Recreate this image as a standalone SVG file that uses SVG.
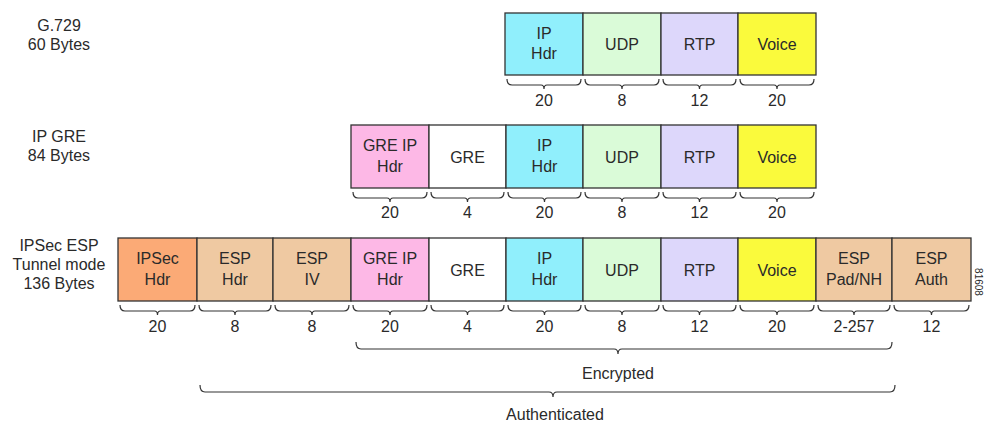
<svg xmlns="http://www.w3.org/2000/svg" width="986" height="423" viewBox="0 0 986 423">
<style>
text{font-family:"Liberation Sans",Arial,sans-serif;font-size:16px;fill:#2a2a2a;text-anchor:middle}
.lbl{font-size:16px}
.num{font-size:16px}
.box{stroke:#333;stroke-width:1.3}
.ip{fill:#90EFFC}
.udp{fill:#DAFBD8}
.rtp{fill:#DDD7FB}
.voice{fill:#FAFA3C}
.greip{fill:#FDB8E6}
.gre{fill:#FFFFFF}
.ipsec{fill:#FBAA76}
.esp{fill:#EFC9A2}
.brace{fill:none;stroke:#333;stroke-width:1.2}
.tag{font-size:10px}
</style>
<rect width="986" height="423" fill="#fff"/>

<g id="label-g729"><text x="59" y="31">G.729</text><text x="59" y="50">60 Bytes</text></g>
<g id="label-ipgre"><text x="59" y="142">IP GRE</text><text x="59" y="161">84 Bytes</text></g>
<g id="label-ipsec"><text x="59" y="251">IPSec ESP</text><text x="59" y="270">Tunnel mode</text><text x="59" y="289">136 Bytes</text></g>

<!-- Row 1 -->
<g id="r1-iphdr"><rect class="box ip" x="505" y="13" width="78" height="62"/><text x="544" y="38.5">IP</text><text x="544" y="59">Hdr</text></g>
<g id="r1-udp"><rect class="box udp" x="583" y="13" width="78" height="62"/><text x="622" y="50">UDP</text></g>
<g id="r1-rtp"><rect class="box rtp" x="661" y="13" width="77" height="62"/><text x="699.5" y="50">RTP</text></g>
<g id="r1-voice"><rect class="box voice" x="738" y="13" width="78" height="62"/><text x="777" y="50">Voice</text></g>

<!-- Row 2 -->
<g id="r2-greiphdr"><rect class="box greip" x="351" y="125" width="78" height="63"/><text x="390" y="151">GRE IP</text><text x="390" y="171.5">Hdr</text></g>
<g id="r2-gre"><rect class="box gre" x="429" y="125" width="77" height="63"/><text x="467.5" y="162.5">GRE</text></g>
<g id="r2-iphdr"><rect class="box ip" x="506" y="125" width="77" height="63"/><text x="544.5" y="151">IP</text><text x="544.5" y="171.5">Hdr</text></g>
<g id="r2-udp"><rect class="box udp" x="583" y="125" width="78" height="63"/><text x="622" y="162.5">UDP</text></g>
<g id="r2-rtp"><rect class="box rtp" x="661" y="125" width="77" height="63"/><text x="699.5" y="162.5">RTP</text></g>
<g id="r2-voice"><rect class="box voice" x="738" y="125" width="78" height="63"/><text x="777" y="162.5">Voice</text></g>

<!-- Row 3 -->
<g id="r3-ipsechdr"><rect class="box ipsec" x="118" y="238" width="79" height="63"/><text x="157.5" y="264">IPSec</text><text x="157.5" y="284.5">Hdr</text></g>
<g id="r3-esphdr"><rect class="box esp" x="197" y="238" width="76" height="63"/><text x="235" y="264">ESP</text><text x="235" y="284.5">Hdr</text></g>
<g id="r3-espiv"><rect class="box esp" x="273" y="238" width="78" height="63"/><text x="312" y="264">ESP</text><text x="312" y="284.5">IV</text></g>
<g id="r3-greiphdr"><rect class="box greip" x="351" y="238" width="78" height="63"/><text x="390" y="264">GRE IP</text><text x="390" y="284.5">Hdr</text></g>
<g id="r3-gre"><rect class="box gre" x="429" y="238" width="77" height="63"/><text x="467.5" y="275.5">GRE</text></g>
<g id="r3-iphdr"><rect class="box ip" x="506" y="238" width="77" height="63"/><text x="544.5" y="264">IP</text><text x="544.5" y="284.5">Hdr</text></g>
<g id="r3-udp"><rect class="box udp" x="583" y="238" width="78" height="63"/><text x="622" y="275.5">UDP</text></g>
<g id="r3-rtp"><rect class="box rtp" x="661" y="238" width="77" height="63"/><text x="699.5" y="275.5">RTP</text></g>
<g id="r3-voice"><rect class="box voice" x="738" y="238" width="78" height="63"/><text x="777" y="275.5">Voice</text></g>
<g id="r3-esppad"><rect class="box esp" x="816" y="238" width="76" height="63"/><text x="854" y="264">ESP</text><text x="854" y="284.5">Pad/NH</text></g>
<g id="r3-espauth"><rect class="box esp" x="892" y="238" width="79" height="63"/><text x="931.5" y="264">ESP</text><text x="931.5" y="284.5">Auth</text></g>

<text class="tag" transform="translate(975,282) rotate(90)" text-anchor="middle">81608</text>

<!-- braces -->
<g id="connectors">
<!-- row1 b=75 -->
<path class="brace" d="M507,79 Q507,85 512,85 H541 Q544,85 544,89 Q544,85 547,85 H576 Q581,85 581,79"/>
<path class="brace" d="M585,79 Q585,85 590,85 H619 Q622,85 622,89 Q622,85 625,85 H654 Q659,85 659,79"/>
<path class="brace" d="M663,79 Q663,85 668,85 H696.5 Q699.5,85 699.5,89 Q699.5,85 702.5,85 H731 Q736,85 736,79"/>
<path class="brace" d="M740,79 Q740,85 745,85 H774 Q777,85 777,89 Q777,85 780,85 H809 Q814,85 814,79"/>
<!-- row2 b=188 -->
<path class="brace" d="M353,192 Q353,198 358,198 H387 Q390,198 390,202 Q390,198 393,198 H422 Q427,198 427,192"/>
<path class="brace" d="M431,192 Q431,198 436,198 H464.5 Q467.5,198 467.5,202 Q467.5,198 470.5,198 H499 Q504,198 504,192"/>
<path class="brace" d="M508,192 Q508,198 513,198 H541.5 Q544.5,198 544.5,202 Q544.5,198 547.5,198 H576 Q581,198 581,192"/>
<path class="brace" d="M585,192 Q585,198 590,198 H619 Q622,198 622,202 Q622,198 625,198 H654 Q659,198 659,192"/>
<path class="brace" d="M663,192 Q663,198 668,198 H696.5 Q699.5,198 699.5,202 Q699.5,198 702.5,198 H731 Q736,198 736,192"/>
<path class="brace" d="M740,192 Q740,198 745,198 H774 Q777,198 777,202 Q777,198 780,198 H809 Q814,198 814,192"/>
<!-- row3 b=301 -->
<path class="brace" d="M120,305 Q120,311 125,311 H154.5 Q157.5,311 157.5,315 Q157.5,311 160.5,311 H190 Q195,311 195,305"/>
<path class="brace" d="M199,305 Q199,311 204,311 H232 Q235,311 235,315 Q235,311 238,311 H266 Q271,311 271,305"/>
<path class="brace" d="M275,305 Q275,311 280,311 H309 Q312,311 312,315 Q312,311 315,311 H344 Q349,311 349,305"/>
<path class="brace" d="M353,305 Q353,311 358,311 H387 Q390,311 390,315 Q390,311 393,311 H422 Q427,311 427,305"/>
<path class="brace" d="M431,305 Q431,311 436,311 H464.5 Q467.5,311 467.5,315 Q467.5,311 470.5,311 H499 Q504,311 504,305"/>
<path class="brace" d="M508,305 Q508,311 513,311 H541.5 Q544.5,311 544.5,315 Q544.5,311 547.5,311 H576 Q581,311 581,305"/>
<path class="brace" d="M585,305 Q585,311 590,311 H619 Q622,311 622,315 Q622,311 625,311 H654 Q659,311 659,305"/>
<path class="brace" d="M663,305 Q663,311 668,311 H696.5 Q699.5,311 699.5,315 Q699.5,311 702.5,311 H731 Q736,311 736,305"/>
<path class="brace" d="M740,305 Q740,311 745,311 H774 Q777,311 777,315 Q777,311 780,311 H809 Q814,311 814,305"/>
<path class="brace" d="M818,305 Q818,311 823,311 H851 Q854,311 854,315 Q854,311 857,311 H885 Q890,311 890,305"/>
<path class="brace" d="M894,305 Q894,311 899,311 H928.5 Q931.5,311 931.5,315 Q931.5,311 934.5,311 H964 Q969,311 969,305"/>
<!-- Encrypted -->
<path class="brace" d="M356,342 Q356,349 361,349 H614 Q618,349 618,354 Q618,349 622,349 H887 Q892,349 892,342"/>
<!-- Authenticated -->
<path class="brace" d="M200,385 Q200,392 205,392 H549 Q553,392 553,397 Q553,392 557,392 H890 Q895,392 895,385"/>
</g>

<g id="sizes">
<text x="544" y="106">20</text><text x="622" y="106">8</text><text x="699.5" y="106">12</text><text x="777" y="106">20</text>
<text x="390" y="218">20</text><text x="467.5" y="218">4</text><text x="544.5" y="218">20</text><text x="622" y="218">8</text><text x="699.5" y="218">12</text><text x="777" y="218">20</text>
<text x="157.5" y="332">20</text><text x="235" y="332">8</text><text x="312" y="332">8</text><text x="390" y="332">20</text><text x="467.5" y="332">4</text><text x="544.5" y="332">20</text><text x="622" y="332">8</text><text x="699.5" y="332">12</text><text x="777" y="332">20</text><text x="854" y="332">2-257</text><text x="931.5" y="332">12</text>
</g>

<g id="label-encrypted"><text x="618" y="379">Encrypted</text></g>
<g id="label-authenticated"><text x="555" y="420">Authenticated</text></g>
</svg>
